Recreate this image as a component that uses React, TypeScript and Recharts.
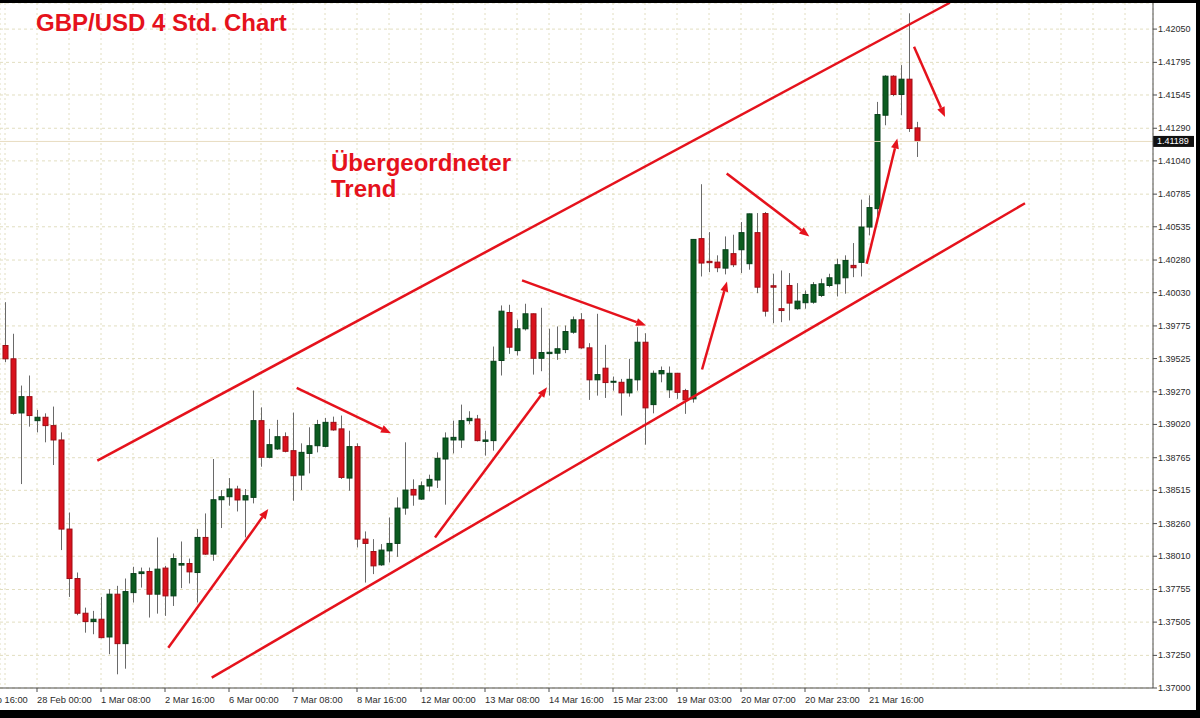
import React from 'react'
import { ComposedChart, Bar, XAxis, YAxis, CartesianGrid, ReferenceLine } from 'recharts'

// 4h candles, GBP/USD (index 0 = first visible candle)
const OPEN = [
  1.39625, 1.39523, 1.39108, 1.39233, 1.39049, 1.39075, 1.39011, 1.38901, 1.38218, 1.37839,
  1.37573, 1.37509, 1.37527, 1.37391, 1.37719, 1.3734, 1.37731, 1.37877, 1.37893, 1.37719,
  1.37919, 1.37706, 1.37942, 1.37954, 1.37885, 1.38154, 1.38026, 1.38443, 1.38466, 1.38525,
  1.38441, 1.38461, 1.39049, 1.38768, 1.38832, 1.38926, 1.38819, 1.38632, 1.38798, 1.38857,
  1.38852, 1.39036, 1.38986, 1.38609, 1.3885, 1.38141, 1.38046, 1.37944, 1.38051, 1.38108,
  1.38379, 1.38522, 1.38448, 1.38548, 1.38594, 1.38755, 1.38901, 1.38901, 1.39049, 1.39062,
  1.3889, 1.38896, 1.3951, 1.39878, 1.39586, 1.39753, 1.39868, 1.39527, 1.39563, 1.39566,
  1.39594, 1.39727, 1.39822, 1.39607, 1.39362, 1.39451, 1.39345, 1.39343, 1.39262, 1.39362,
  1.3965, 1.39172, 1.39408, 1.39285, 1.39412, 1.39279, 1.39216, 1.40444, 1.4027, 1.40264,
  1.40218, 1.40329, 1.40359, 1.40252, 1.4049, 1.40636, 1.40083, 1.39907, 1.40085, 1.39907,
  1.39953, 1.39957, 1.40009, 1.40085, 1.40098, 1.40144, 1.40239, 1.40262, 1.40533, 1.40674,
  1.4139, 1.41689, 1.41549, 1.41666, 1.41293,
]
const HIGH = [
  1.39957, 1.39715, 1.39318, 1.39395, 1.39131, 1.39105, 1.39157, 1.38959, 1.38345, 1.37885,
  1.37616, 1.37591, 1.37698, 1.37758, 1.37783, 1.37839, 1.37929, 1.37923, 1.37923, 1.38154,
  1.37936, 1.38031, 1.38123, 1.37992, 1.38218, 1.38338, 1.38755, 1.38517, 1.38609, 1.3855,
  1.38525, 1.3928, 1.39151, 1.38986, 1.39055, 1.38959, 1.39111, 1.38875, 1.38998, 1.39055,
  1.3907, 1.3908, 1.39088, 1.38972, 1.38875, 1.382, 1.38141, 1.38103, 1.38307, 1.38461,
  1.38883, 1.38599, 1.38583, 1.38635, 1.38806, 1.38959, 1.39049, 1.39172, 1.39121, 1.39093,
  1.38972, 1.39617, 1.39932, 1.39937, 1.39822, 1.39945, 1.3987, 1.39914, 1.39753, 1.39771,
  1.39778, 1.39847, 1.39873, 1.39643, 1.39868, 1.3963, 1.39387, 1.39369, 1.39523, 1.39765,
  1.39719, 1.39433, 1.39464, 1.39464, 1.39415, 1.39293, 1.4044, 1.40861, 1.40494, 1.40316,
  1.40461, 1.40474, 1.40571, 1.40636, 1.4064, 1.40648, 1.40175, 1.402, 1.4018, 1.40103,
  1.40047, 1.40111, 1.40137, 1.40175, 1.4029, 1.40316, 1.4041, 1.40743, 1.40776, 1.41492,
  1.41697, 1.41697, 1.41774, 1.42171, 1.41339,
]
const LOW = [
  1.39497, 1.39095, 1.38563, 1.39003, 1.38959, 1.38883, 1.38709, 1.38057, 1.37698, 1.37558,
  1.37424, 1.37412, 1.37381, 1.37259, 1.37105, 1.37148, 1.37655, 1.3777, 1.3754, 1.3757,
  1.37553, 1.37629, 1.37765, 1.37801, 1.37655, 1.3802, 1.37975, 1.38226, 1.38397, 1.38353,
  1.38154, 1.38415, 1.38696, 1.3876, 1.38825, 1.38806, 1.38435, 1.38517, 1.38645, 1.38806,
  1.38844, 1.38972, 1.38602, 1.38512, 1.38077, 1.37808, 1.37873, 1.37936, 1.37962, 1.38005,
  1.38328, 1.38397, 1.38441, 1.38507, 1.38533, 1.38405, 1.38798, 1.3884, 1.39024, 1.3889,
  1.38781, 1.38819, 1.39395, 1.39561, 1.39548, 1.3974, 1.39402, 1.39428, 1.39241, 1.39515,
  1.39566, 1.39715, 1.396, 1.39208, 1.39241, 1.39223, 1.39279, 1.39088, 1.39233, 1.39279,
  1.38865, 1.39105, 1.39343, 1.39223, 1.39216, 1.39101, 1.39187, 1.40154, 1.40187, 1.40187,
  1.4017, 1.40226, 1.4018, 1.40206, 1.40026, 1.39847, 1.39796, 1.39804, 1.39817, 1.39899,
  1.39907, 1.39945, 1.39996, 1.40072, 1.40001, 1.40022, 1.40149, 1.40154, 1.40469, 1.40597,
  1.41313, 1.41536, 1.4139, 1.41262, 1.4107,
]
const CLOSE = [
  1.39523, 1.39105, 1.39233, 1.39088, 1.39075, 1.39011, 1.38901, 1.38218, 1.37839, 1.37573,
  1.37509, 1.37527, 1.37386, 1.37719, 1.3734, 1.37739, 1.37877, 1.3789, 1.37719, 1.37911,
  1.37706, 1.37992, 1.37954, 1.3789, 1.38154, 1.38026, 1.38443, 1.38466, 1.38525, 1.38441,
  1.38474, 1.39049, 1.38768, 1.38865, 1.38926, 1.38814, 1.38627, 1.38806, 1.38857, 1.39019,
  1.39036, 1.38978, 1.38614, 1.3885, 1.38141, 1.38108, 1.37936, 1.38057, 1.38108, 1.38379,
  1.38517, 1.38479, 1.3855, 1.38599, 1.3876, 1.38916, 1.38921, 1.39049, 1.39067, 1.38896,
  1.38901, 1.39504, 1.39888, 1.39612, 1.39753, 1.39868, 1.39527, 1.39571, 1.39573, 1.396,
  1.39732, 1.39822, 1.39607, 1.39362, 1.39402, 1.39341, 1.39351, 1.39262, 1.39366, 1.3965,
  1.39147, 1.39412, 1.39433, 1.39412, 1.39266, 1.39208, 1.40438, 1.40257, 1.4026, 1.40221,
  1.40359, 1.40244, 1.4049, 1.40634, 1.40072, 1.39888, 1.40072, 1.39893, 1.3995, 1.39965,
  1.40016, 1.40091, 1.40098, 1.40144, 1.40244, 1.40277, 1.40221, 1.40533, 1.40682, 1.41395,
  1.41689, 1.41549, 1.41666, 1.41288, 1.41189,
]

const TIME_TICKS = [-4, 4, 12, 20, 28, 36, 44, 52, 60, 68, 76, 84, 92, 100, 108]
const TIME_LABELS = [
  '26 Feb 16:00', '28 Feb 00:00', '1 Mar 08:00', '2 Mar 16:00', '6 Mar 00:00',
  '7 Mar 08:00', '8 Mar 16:00', '12 Mar 00:00', '13 Mar 08:00', '14 Mar 16:00',
  '15 Mar 23:00', '19 Mar 03:00', '20 Mar 07:00', '20 Mar 23:00', '21 Mar 16:00',
]
const PRICE_TICKS = [
  1.37, 1.3725, 1.37505, 1.37755, 1.3801, 1.3826, 1.38515, 1.38765, 1.3902, 1.3927, 1.39525,
  1.39775, 1.4003, 1.4028, 1.40535, 1.40785, 1.4104, 1.4129, 1.41545, 1.41795, 1.4205,
]
const GRID_X = [
  0, 4, 8, 12, 16, 20, 24, 28, 32, 36, 40, 44, 48, 52, 56, 60, 64, 68, 72, 76,
  80, 84, 88, 92, 96, 100, 104, 108, 112, 116, 120, 124, 128, 132, 136, 140,
]
const LAST_PRICE = 1.41189

// channel lines + arrows, in (candle index, price)
const CHANNEL = [
  { from: [11.54, 1.38742], to: [118.1, 1.42252] },
  { from: [25.84, 1.37079], to: [127.5, 1.40715] },
]
const ARROWS = [
  { from: [20.41, 1.37309], to: [32.91, 1.38372] },
  { from: [36.46, 1.393], to: [48.25, 1.38953] },
  { from: [53.75, 1.38154], to: [67.75, 1.39305] },
  { from: [64.63, 1.40124], to: [80.13, 1.39778] },
  { from: [87.13, 1.39441], to: [90.25, 1.40116] },
  { from: [90.21, 1.40943], to: [100.54, 1.40461] },
  { from: [107.71, 1.40252], to: [111.54, 1.41211] },
  { from: [113.63, 1.41914], to: [117.5, 1.41377] },
]

const RED = '#e5121c'
const GRID = '#e2dec0'
const AXIS = '#4d4d4d'
const FONT = '"Liberation Sans", Arial, sans-serif'

const rows = OPEN.map((o, i) => ({
  k: i,
  open: o,
  high: HIGH[i],
  low: LOW[i],
  close: CLOSE[i],
  range: [LOW[i], HIGH[i]],
}))

function Candle(props: any) {
  const { x, y, width, height, payload } = props
  if (x == null || y == null) return null
  const top = Math.min(y, y + height)
  const h = Math.abs(height)
  const { open, close, high, low } = payload
  const ppu = high - low > 0 ? h / (high - low) : 0
  const yO = top + (high - open) * ppu
  const yC = top + (high - close) * ppu
  const bTop = Math.min(yO, yC)
  const bBot = Math.max(yO, yC)
  const up = close >= open
  const cx = Math.round(x + width / 2) + 0.5
  return (
    <g>
      <line x1={cx} x2={cx} y1={top} y2={top + h} stroke="#6a6a6a" strokeWidth={1} />
      <rect
        x={cx - 2.5}
        y={bTop}
        width={5}
        height={Math.max(bBot - bTop, 1)}
        fill={up ? '#0c5c20' : '#d9121d'}
        stroke={up ? '#07401a' : '#9e0c14'}
        strokeWidth={1}
      />
    </g>
  )
}

function Arrow(props: any) {
  const { x1, y1, x2, y2 } = props
  const a = Math.atan2(y2 - y1, x2 - x1)
  const L = 10
  const W = 4
  const bx = x2 - L * Math.cos(a)
  const by = y2 - L * Math.sin(a)
  const pts = `${x2},${y2} ${bx - W * Math.sin(a)},${by + W * Math.cos(a)} ${bx + W * Math.sin(a)},${by - W * Math.cos(a)}`
  return (
    <g>
      <line x1={x1} y1={y1} x2={bx} y2={by} stroke={RED} strokeWidth={2.5} />
      <polygon points={pts} fill={RED} />
    </g>
  )
}

function TimeTick({ x, y, payload }: any) {
  const i = TIME_TICKS.indexOf(payload.value)
  return (
    <text x={x} y={y + 9} textAnchor="start" fontSize={9.3} fill="#2a2a2a" fontFamily={FONT}>
      {TIME_LABELS[i]}
    </text>
  )
}

function PriceTick({ x, y, payload }: any) {
  return (
    <text x={x} y={y + 3} textAnchor="start" fontSize={9} fill="#2a2a2a" fontFamily={FONT}>
      {Number(payload.value).toFixed(5)}
    </text>
  )
}

function PriceTag({ viewBox }: any) {
  if (!viewBox) return null
  const x = viewBox.x + viewBox.width
  const y = viewBox.y
  return (
    <g>
      <rect x={x} y={y - 5.5} width={41} height={11} fill="#111" />
      <text x={x + 4} y={y + 3} fontSize={9} fill="#fff" fontFamily={FONT}>
        {LAST_PRICE.toFixed(5)}
      </text>
    </g>
  )
}

export default function App() {
  return (
    <div style={{ position: 'absolute', left: 0, top: 0, width: 1200, height: 718, background: '#fff', overflow: 'hidden' }}>
      <ComposedChart
        width={1200}
        height={718}
        data={rows}
        margin={{ top: 3, right: 5, bottom: 8, left: 0 }}
      >
        <CartesianGrid vertical={false} stroke={GRID} strokeDasharray="3 3" />
        <CartesianGrid xAxisId="grid" horizontal={false} stroke={GRID} strokeDasharray="2 3" />
        <XAxis
          xAxisId="grid"
          type="number"
          dataKey="k"
          domain={[-0.625, 143.5]}
          allowDataOverflow
          ticks={GRID_X}
          interval={0}
          hide
        />
        <XAxis
          type="number"
          dataKey="k"
          domain={[-0.625, 143.5]}
          allowDataOverflow
          ticks={TIME_TICKS}
          interval={0}
          height={22}
          tickSize={4}
          tickMargin={2}
          stroke={AXIS}
          tick={<TimeTick />}
        />
        <YAxis
          orientation="right"
          type="number"
          domain={[1.37, 1.4225]}
          allowDataOverflow
          ticks={PRICE_TICKS}
          interval={0}
          width={42}
          tickSize={4}
          tickMargin={1}
          stroke={AXIS}
          tick={<PriceTick />}
        />
        <ReferenceLine
          y={LAST_PRICE}
          stroke="#e8dcc0"
          strokeWidth={1}
          label={{ content: (p: any) => <PriceTag viewBox={p.viewBox} /> }}
        />
        <Bar dataKey="range" barSize={6} shape={Candle} isAnimationActive={false} />
        {CHANNEL.map((l, i) => (
          <ReferenceLine
            key={`c${i}`}
            segment={[{ x: l.from[0], y: l.from[1] }, { x: l.to[0], y: l.to[1] }]}
            stroke={RED}
            strokeWidth={2.5}
            ifOverflow="visible"
          />
        ))}
        {ARROWS.map((l, i) => (
          <ReferenceLine
            key={`a${i}`}
            segment={[{ x: l.from[0], y: l.from[1] }, { x: l.to[0], y: l.to[1] }]}
            ifOverflow="visible"
            shape={Arrow}
          />
        ))}
      </ComposedChart>
      <svg width={1200} height={718} style={{ position: 'absolute', left: 0, top: 0, pointerEvents: 'none' }}>
        <g fontFamily={FONT} fontWeight="bold" fontSize={24} fill={RED}>
          <text x={36} y={30.5}>GBP/USD 4 Std. Chart</text>
          <text x={331} y={171}>Übergeordneter</text>
          <text x={331} y={197}>Trend</text>
        </g>
        <rect x={0} y={0} width={1200} height={3} fill="#000" />
        <rect x={1196} y={0} width={4} height={718} fill="#000" />
        <rect x={0} y={710} width={1200} height={8} fill="#000" />
      </svg>
    </div>
  )
}
